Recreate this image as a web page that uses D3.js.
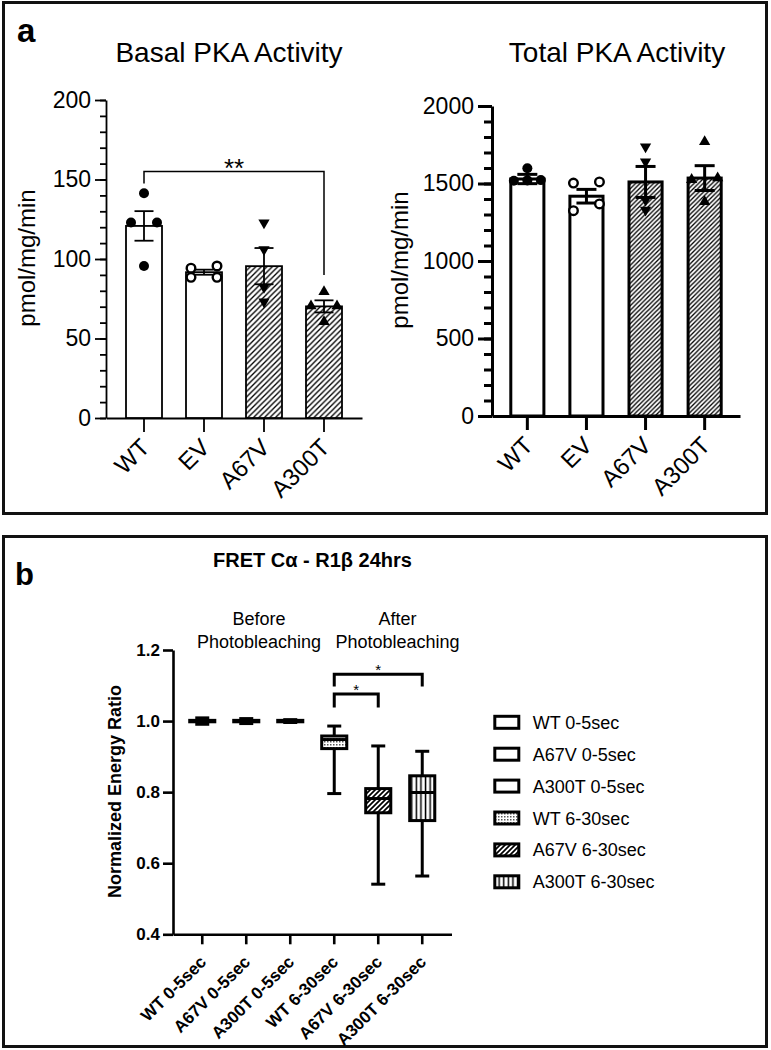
<!DOCTYPE html>
<html><head><meta charset="utf-8">
<script src="https://cdn.jsdelivr.net/npm/d3@7"></script>
<style>
body{margin:0;background:#fff}
svg{display:block}
text{font-family:"Liberation Sans",Arial,Helvetica,sans-serif;fill:#000}
</style>
</head><body>
<svg id="chart" width="771" height="1050"></svg>
<script>
// ---------- DATA ----------
const groupsA = ["WT", "EV", "A67V", "A300T"];
const basalMean = [120.8, 91.7, 95.5, 70.2];
const basalSem = [9.3, 1.6, 11.4, 3.8];
const basalPoints = [
  [141.3, 123, 123, 95.6],
  [94.2, 95.6, 88.5, 88.5],
  [122.8, 106, 82.2, 73.1],
  [79.4, 70.4, 70.4, 60.6]
];
const basalTicks = [0, 50, 100, 150, 200];
const totalMean = [1529, 1418, 1510, 1535];
const totalSem = [30, 44, 100, 80];
const totalPoints = [
  [1598, 1520, 1522, 1518],
  [1503, 1510, 1325, 1368],
  [1737, 1641, 1394, 1329],
  [1770, 1535, 1525, 1383]
];
const totalTicks = [0, 500, 1000, 1500, 2000];

const groupsB = ["WT 0-5sec", "A67V 0-5sec", "A300T 0-5sec", "WT 6-30sec", "A67V 6-30sec", "A300T 6-30sec"];
const boxMin = [0.991, 0.993, 0.996, 0.796, 0.541, 0.564];
const boxQ1 = [0.998, 0.998, 0.998, 0.9225, 0.742, 0.72];
const boxMedian = [1.0, 1.0, 1.0, 0.948, 0.782, 0.799];
const boxQ3 = [1.002, 1.002, 1.002, 0.958, 0.81, 0.846];
const boxMax = [1.009, 1.007, 1.004, 0.986, 0.93, 0.915];
const ratioTicks = [0.4, 0.6, 0.8, 1.0, 1.2];

// ---------- SETUP ----------
const svg = d3.select("#chart");
svg.append("rect").attr("width", 771).attr("height", 1050).attr("fill", "#fff");
const defs = svg.append("defs");

function diagPattern(id, s, sw) {
  const p = defs.append("pattern").attr("id", id).attr("patternUnits", "userSpaceOnUse")
    .attr("width", s).attr("height", s);
  p.append("rect").attr("width", s).attr("height", s).attr("fill", "#fff");
  p.append("path").attr("d", `M${-s/2},${s/2} L${s/2},${-s/2} M0,${s} L${s},0 M${s/2},${s*1.5} L${s*1.5},${s/2}`)
    .attr("stroke", "#000").attr("stroke-width", sw);
}
diagPattern("hatchL", 5.5, 1.3);
diagPattern("hatchR", 4.5, 1.3);
diagPattern("hatchB", 5, 1.7);
(function () {
  const p = defs.append("pattern").attr("id", "vert").attr("patternUnits", "userSpaceOnUse")
    .attr("width", 4.6).attr("height", 4);
  p.append("rect").attr("width", 4.6).attr("height", 4).attr("fill", "#fff");
  p.append("rect").attr("x", 1.6).attr("width", 1.5).attr("height", 4).attr("fill", "#000");
  const d = defs.append("pattern").attr("id", "dots").attr("patternUnits", "userSpaceOnUse")
    .attr("width", 3).attr("height", 3);
  d.append("rect").attr("width", 3).attr("height", 3).attr("fill", "#fff");
  d.append("rect").attr("width", 1.5).attr("height", 1.5).attr("fill", "#555");
})();

// panel borders
svg.append("rect").attr("x", 3.5).attr("y", 2.5).attr("width", 763).attr("height", 511)
  .attr("fill", "none").attr("stroke", "#111").attr("stroke-width", 3);
svg.append("rect").attr("x", 3.5).attr("y", 536.5).attr("width", 763).attr("height", 510)
  .attr("fill", "none").attr("stroke", "#111").attr("stroke-width", 3);

svg.append("text").attr("x", 17).attr("y", 42).attr("font-size", 33).attr("font-weight", "bold").text("a");
svg.append("text").attr("x", 15).attr("y", 585).attr("font-size", 31).attr("font-weight", "bold").text("b");

// ---------- BAR CHART ----------
function spreadOffsets(vals, y, thresh) {
  const idx = vals.map((v, i) => i).sort((a, b) => vals[a] - vals[b]);
  const rows = [];
  idx.forEach(i => {
    const last = rows[rows.length - 1];
    if (last && Math.abs(y(vals[last[0]]) - y(vals[i])) < thresh) last.push(i);
    else rows.push([i]);
  });
  const off = new Array(vals.length).fill(0);
  rows.forEach(r => {
    const k = r.length;
    const step = k === 2 ? 26 : 13.5;
    r.forEach((i, j) => { off[i] = (j - (k - 1) / 2) * step; });
  });
  return off;
}

function barChart(o) {
  const g = svg.append("g");
  const y = d3.scaleLinear().domain([0, o.max]).range(o.yRange);
  const x = d3.scaleBand().domain(groupsA).range(o.xRange).paddingInner(o.pi).paddingOuter(o.po);
  const bw = x.bandwidth();
  const x0 = o.xRange[0];

  // minor ticks
  const minor = g.append("g").attr("transform", `translate(${x0},0)`)
    .call(d3.axisLeft(y).tickValues(d3.range(0, o.max + 1, o.minor)).tickSize(o.minorLen).tickFormat("").tickSizeOuter(0));
  minor.select(".domain").remove();
  const ya = g.append("g").attr("transform", `translate(${x0},0)`)
    .call(d3.axisLeft(y).tickValues(o.ticks).tickSize(o.majorLen).tickPadding(4).tickSizeOuter(0).tickFormat(d3.format("d")));
  [minor, ya].forEach(a => a.selectAll("line,path").attr("stroke", "#000").attr("stroke-width", o.sw));
  ya.selectAll("text").attr("font-size", 23).attr("font-family", null);

  const xa = g.append("g").attr("transform", `translate(0,${o.yRange[0]})`)
    .call(d3.axisBottom(x).tickSize(14).tickSizeOuter(0).tickFormat(""));
  xa.selectAll("line,path").attr("stroke", "#000").attr("stroke-width", o.sw);
  g.selectAll(".xl").data(groupsA).join("text")
    .attr("transform", d => `translate(${x(d) + bw / 2 + 7},${o.yRange[0] + 31}) rotate(-45)`)
    .attr("text-anchor", "end").attr("font-size", 24).text(d => d);

  // bars
  g.selectAll(".bar").data(groupsA).join("rect")
    .attr("x", d => x(d)).attr("width", bw)
    .attr("y", (d, i) => y(o.mean[i])).attr("height", (d, i) => y(0) - y(o.mean[i]))
    .attr("fill", (d, i) => i >= 2 ? `url(#${o.hatch})` : "#fff")
    .attr("stroke", "#000").attr("stroke-width", o.sw);

  // error bars
  groupsA.forEach((c, i) => {
    const cx = x(c) + bw / 2;
    const lo = y(o.mean[i] - o.sem[i]), hi = y(o.mean[i] + o.sem[i]);
    g.append("line").attr("x1", cx).attr("x2", cx).attr("y1", lo).attr("y2", hi)
      .attr("stroke", "#000").attr("stroke-width", o.sw);
    [lo, hi].forEach(yy => g.append("line").attr("x1", cx - o.cap).attr("x2", cx + o.cap)
      .attr("y1", yy).attr("y2", yy).attr("stroke", "#000").attr("stroke-width", o.sw));
  });

  // points
  groupsA.forEach((c, i) => {
    const cx = x(c) + bw / 2;
    const offs = spreadOffsets(o.points[i], y, 8);
    o.points[i].forEach((v, j) => {
      const px = cx + offs[j], py = y(v);
      if (i === 0) g.append("circle").attr("cx", px).attr("cy", py).attr("r", 5).attr("fill", "#000");
      else if (i === 1) g.append("circle").attr("cx", px).attr("cy", py).attr("r", 4.3)
        .attr("fill", "#fff").attr("stroke", "#000").attr("stroke-width", 2.4);
      else g.append("path").attr("d", d3.symbol().type(d3.symbolTriangle).size(55)())
        .attr("transform", `translate(${px},${py}) rotate(${i === 2 ? 180 : 0})`).attr("fill", "#000");
    });
  });

  g.append("text").attr("x", o.titleX).attr("y", 62).attr("text-anchor", "middle")
    .attr("font-size", 28).text(o.title);
  g.append("text").attr("transform", `translate(${o.ytX},${o.ytY}) rotate(-90)`)
    .attr("text-anchor", "middle").attr("font-size", 24).text("pmol/mg/min");
  return { g, x, y, bw };
}

const L = barChart({
  max: 200, yRange: [418, 100], xRange: [106, 362], pi: 0.4, po: 1 / 3,
  ticks: basalTicks, minor: 10, minorLen: 6, majorLen: 11, sw: 1.8, cap: 9.5,
  mean: basalMean, sem: basalSem, points: basalPoints, hatch: "hatchL",
  title: "Basal PKA Activity", titleX: 229, ytX: 35, ytY: 258
});
const R = barChart({
  max: 2000, yRange: [416, 106], xRange: [492, 740], pi: 0.44, po: 0.318,
  ticks: totalTicks, minor: 100, minorLen: 8, majorLen: 14, sw: 3, cap: 10,
  mean: totalMean, sem: totalSem, points: totalPoints, hatch: "hatchR",
  title: "Total PKA Activity", titleX: 617, ytX: 408, ytY: 260
});

// significance bracket (panel a)
{
  const cxA = L.x("WT") + L.bw / 2, cxB = L.x("A300T") + L.bw / 2;
  L.g.append("path").attr("d", `M${cxA},${L.y(147.5)} V${L.y(155)} H${cxB} V${L.y(90)}`)
    .attr("fill", "none").attr("stroke", "#000").attr("stroke-width", 1.5);
  L.g.append("text").attr("x", (cxA + cxB) / 2).attr("y", 176.5).attr("text-anchor", "middle")
    .attr("font-size", 26).text("**");
}

// ---------- BOX PLOT (panel b) ----------
const gb = svg.append("g");
const yB = d3.scaleLinear().domain([0.4, 1.2]).range([934.3, 650]);
const xB = d3.scaleBand().domain(groupsB).range([173, 451.5]).paddingInner(0.43).paddingOuter(0.38);
const bwB = xB.bandwidth();

const yaB = gb.append("g").attr("transform", "translate(173,0)")
  .call(d3.axisLeft(yB).tickValues(ratioTicks).tickSize(10).tickPadding(3).tickSizeOuter(0).tickFormat(d3.format(".1f")));
yaB.selectAll("line,path").attr("stroke", "#000").attr("stroke-width", 2.6);
yaB.selectAll("text").attr("font-size", 17).attr("font-weight", "bold").attr("font-family", null);

const xaB = gb.append("g").attr("transform", "translate(0,934.3)")
  .call(d3.axisBottom(xB).tickSize(10).tickSizeOuter(0).tickFormat(""));
xaB.selectAll("line,path").attr("stroke", "#000").attr("stroke-width", 2.6);
gb.selectAll(".xlb").data(groupsB).join("text")
  .attr("transform", d => `translate(${xB(d) + bwB / 2 + 5},${963}) rotate(-45)`)
  .attr("text-anchor", "end").attr("font-size", 17).attr("font-weight", "bold").text(d => d);

const boxFill = ["#fff", "#fff", "#fff", "url(#dots)", "url(#hatchB)", "url(#vert)"];
groupsB.forEach((c, i) => {
  const cx = xB(c) + bwB / 2;
  const ln = (x1, y1, x2, y2) => gb.append("line").attr("x1", x1).attr("y1", y1).attr("x2", x2).attr("y2", y2)
    .attr("stroke", "#000").attr("stroke-width", 3);
  ln(cx, yB(boxMin[i]), cx, yB(boxMax[i]));
  ln(cx - 7, yB(boxMin[i]), cx + 7, yB(boxMin[i]));
  ln(cx - 7, yB(boxMax[i]), cx + 7, yB(boxMax[i]));
  gb.append("rect").attr("x", xB(c)).attr("width", bwB)
    .attr("y", yB(boxQ3[i])).attr("height", yB(boxQ1[i]) - yB(boxQ3[i]))
    .attr("fill", boxFill[i]).attr("stroke", "#000").attr("stroke-width", 3);
  ln(xB(c), yB(boxMedian[i]), xB(c) + bwB, yB(boxMedian[i]));
});

// brackets (panel b)
function bracketB(a, b, top, drop, starY) {
  const xa = xB(a) + bwB / 2, xb = xB(b) + bwB / 2;
  gb.append("path").attr("d", `M${xa},${yB(drop)} V${yB(top)} H${xb} V${yB(drop)}`)
    .attr("fill", "none").attr("stroke", "#000").attr("stroke-width", 3);
  gb.append("text").attr("x", (xa + xb) / 2).attr("y", starY).attr("text-anchor", "middle")
    .attr("font-size", 15).text("*");
}
bracketB("WT 6-30sec", "A67V 6-30sec", 1.076, 1.038, 695);
bracketB("WT 6-30sec", "A300T 6-30sec", 1.132, 1.097, 675.3);

gb.append("text").attr("x", 312.5).attr("y", 567).attr("text-anchor", "middle")
  .attr("font-size", 20).attr("font-weight", "bold").text("FRET Cα - R1β 24hrs");
[["Before", 259, 625], ["Photobleaching", 259, 647.7], ["After", 397.5, 625], ["Photobleaching", 397.5, 647.7]]
  .forEach(([t, x, y]) => gb.append("text").attr("x", x).attr("y", y).attr("text-anchor", "middle")
    .attr("font-size", 18).text(t));
gb.append("text").attr("transform", "translate(121,791.5) rotate(-90)").attr("text-anchor", "middle")
  .attr("font-size", 18).attr("font-weight", "bold").text("Normalized Energy Ratio");

// legend
groupsB.forEach((c, i) => {
  const cy = 722.3 + 31.9 * i;
  gb.append("rect").attr("x", 494.8).attr("y", cy - 6).attr("width", 24).attr("height", 12)
    .attr("fill", boxFill[i]).attr("stroke", "#000").attr("stroke-width", 3);
  gb.append("text").attr("x", 532.7).attr("y", cy + 6.5).attr("font-size", 18).text(c);
});
</script>
</body></html>
